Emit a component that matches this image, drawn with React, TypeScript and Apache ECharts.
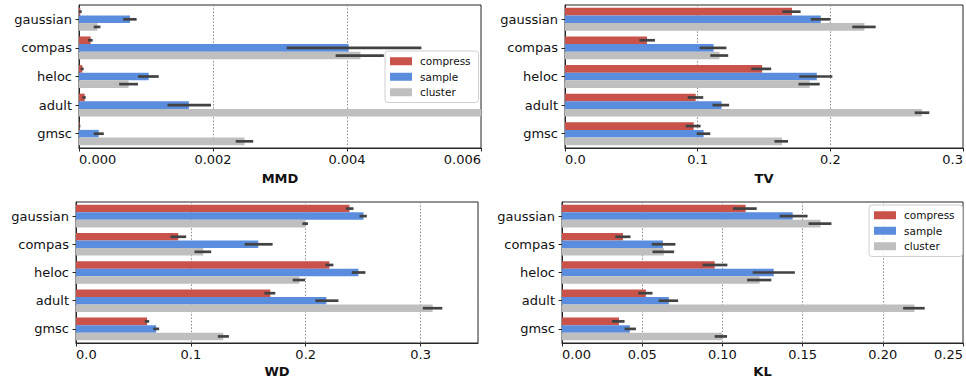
import React, { useEffect, useRef } from 'react';
import * as echarts from 'echarts';

const categories = ['gaussian', 'compas', 'heloc', 'adult', 'gmsc'];
const methods = ['compress', 'sample', 'cluster'];
const colors = ['#c9524a', '#5a8dde', '#bfbfbf'];

// MMD
const mmdCompress = [0.00002, 0.000174, 0.00005, 0.000085, 0.00001];
const mmdCompressCI = [[0.0, 0.00004], [0.000134, 0.000204], [0.000025, 0.00007], [0.00005, 0.0001], [0.0, 0.00002]];
const mmdSample = [0.00076, 0.004025, 0.00104, 0.00164, 0.000294];
const mmdSampleCI = [[0.00066, 0.00086], [0.0031, 0.00511], [0.00088, 0.00119], [0.00132, 0.00197], [0.00022, 0.00037]];
const mmdCluster = [0.000274, 0.0042, 0.00074, 0.0085, 0.00247];
const mmdClusterCI = [[0.00022, 0.00032], [0.00383, 0.00455], [0.0006, 0.00088], [0.0082, 0.0088], [0.00234, 0.0026]];

// TV
const tvCompress = [0.1711, 0.0618, 0.1486, 0.0985, 0.097];
const tvCompressCI = [[0.1638, 0.1776], [0.0561, 0.0678], [0.1404, 0.1554], [0.0925, 0.1042], [0.091, 0.1022]];
const tvSample = [0.1928, 0.112, 0.1898, 0.118, 0.1045];
const tvSampleCI = [[0.1853, 0.2], [0.1015, 0.1217], [0.1766, 0.2015], [0.1112, 0.1237], [0.0993, 0.1095]];
const tvCluster = [0.2257, 0.1165, 0.1845, 0.269, 0.1636];
const tvClusterCI = [[0.2165, 0.2342], [0.1095, 0.123], [0.176, 0.192], [0.2636, 0.2746], [0.1579, 0.1681]];

// WD
const wdCompress = [0.2381, 0.089, 0.2206, 0.1692, 0.0619];
const wdCompressCI = [[0.2349, 0.2416], [0.0823, 0.0959], [0.2172, 0.2241], [0.164, 0.1735], [0.0599, 0.0637]];
const wdSample = [0.2503, 0.1587, 0.2459, 0.218, 0.0698];
const wdSampleCI = [[0.2468, 0.2532], [0.1468, 0.1712], [0.2401, 0.252], [0.2084, 0.2285], [0.0672, 0.0724]];
const wdCluster = [0.1997, 0.1108, 0.1945, 0.3105, 0.1282];
const wdClusterCI = [[0.1971, 0.202], [0.1032, 0.1177], [0.1887, 0.1994], [0.302, 0.3189], [0.1235, 0.1331]];

// KL
const klCompress = [0.1145, 0.038, 0.0952, 0.0523, 0.0355];
const klCompressCI = [[0.1066, 0.1214], [0.0332, 0.0427], [0.0876, 0.1031], [0.0475, 0.0564], [0.0311, 0.039]];
const klSample = [0.1438, 0.0629, 0.132, 0.0666, 0.0423];
const klSampleCI = [[0.1357, 0.1531], [0.056, 0.0707], [0.1189, 0.1452], [0.0602, 0.0724], [0.039, 0.0461]];
const klCluster = [0.1612, 0.0635, 0.1232, 0.2197, 0.0998];
const klClusterCI = [[0.1537, 0.168], [0.0564, 0.0699], [0.1154, 0.1305], [0.2127, 0.2261], [0.0952, 0.1029]];

const panels = [
  { name: 'MMD', values: [mmdCompress, mmdSample, mmdCluster], cis: [mmdCompressCI, mmdSampleCI, mmdClusterCI], min: 0, max: 0.006, interval: 0.002, digits: 3, showMax: true, nameGap: 24 },
  { name: 'TV', values: [tvCompress, tvSample, tvCluster], cis: [tvCompressCI, tvSampleCI, tvClusterCI], min: 0, max: 0.3, interval: 0.1, digits: 1, showMax: true, nameGap: 24 },
  { name: 'WD', values: [wdCompress, wdSample, wdCluster], cis: [wdCompressCI, wdSampleCI, wdClusterCI], min: 0, max: 0.35, interval: 0.1, digits: 1, showMax: false, nameGap: 22 },
  { name: 'KL', values: [klCompress, klSample, klCluster], cis: [klCompressCI, klSampleCI, klClusterCI], min: 0, max: 0.25, interval: 0.05, digits: 2, showMax: true, nameGap: 22 },
];

const gridPos = [
  { left: 79, top: 5, width: 402, height: 143 },
  { left: 565, top: 5, width: 401, height: 143 },
  { left: 76, top: 202, width: 402, height: 141 },
  { left: 562, top: 202, width: 401, height: 141 },
];

const FONT = 'DejaVu Sans';

export default function App() {
  const ref = useRef<HTMLDivElement>(null);
  useEffect(() => {
    if (!ref.current) return;
    const chart = echarts.init(ref.current, null, { renderer: 'svg' });

    const grid = gridPos.map((g) => ({ ...g, show: true, borderColor: '#262626', borderWidth: 1, backgroundColor: 'transparent' }));

    const xAxis = panels.map((p, i) => ({
      type: 'value',
      gridIndex: i,
      min: p.min,
      max: p.max,
      interval: p.interval,
      name: p.name,
      nameLocation: 'middle',
      nameGap: p.nameGap,
      nameTextStyle: { fontFamily: FONT, fontWeight: 'bold', fontSize: 13, color: '#111' },
      axisLine: { show: true, lineStyle: { color: '#262626', width: 1 } },
      axisTick: { show: true, length: 3.5, lineStyle: { color: '#262626', width: 1 } },
      axisLabel: {
        fontFamily: FONT,
        fontSize: 13,
        color: '#111',
        margin: 5,
        showMaxLabel: p.showMax,
        alignMinLabel: 'left',
        alignMaxLabel: 'right',
        formatter: (v: number) => v.toFixed(p.digits),
      },
      splitLine: { show: true, lineStyle: { color: '#8a8a8a', width: 1, type: [1.5, 1.8] } },
    }));

    const yAxis = panels.map((p, i) => ({
      type: 'category',
      gridIndex: i,
      data: categories,
      inverse: true,
      axisLine: { show: true, lineStyle: { color: '#262626', width: 1 } },
      axisTick: { show: true, alignWithLabel: true, length: 3.5, lineStyle: { color: '#262626', width: 1 } },
      axisLabel: { fontFamily: FONT, fontSize: 13, color: '#111', margin: 7 },
      splitLine: { show: false },
    }));

    const series: any[] = [];
    panels.forEach((p, i) => {
      methods.forEach((m, k) => {
        series.push({
          type: 'bar',
          name: m,
          xAxisIndex: i,
          yAxisIndex: i,
          data: p.values[k],
          barCategoryGap: '20%',
          barGap: '0%',
          itemStyle: { color: colors[k] },
          clip: true,
          z: 2,
        });
      });
      const errData: number[][] = [];
      methods.forEach((m, k) => {
        p.cis[k].forEach((ci, c) => errData.push([ci[0], ci[1], c, k]));
      });
      series.push({
        type: 'custom',
        name: 'err' + i,
        xAxisIndex: i,
        yAxisIndex: i,
        clip: true,
        z: 3,
        encode: { x: [0, 1], y: 2 },
        data: errData,
        renderItem: (params: any, api: any) => {
          const lo = api.value(0);
          const hi = api.value(1);
          const c = api.value(2);
          const k = api.value(3);
          const band = api.size([0, 1])[1];
          const bw = (band * 0.8) / 3;
          const p1 = api.coord([lo, c]);
          const p2 = api.coord([hi, c]);
          const off = (k - 1) * bw;
          return {
            type: 'line',
            shape: { x1: p1[0], y1: p1[1] + off, x2: p2[0], y2: p2[1] + off },
            style: { stroke: '#424242', lineWidth: 2.7 },
          };
        },
      });
    });

    const legendCommon = {
      data: methods,
      orient: 'vertical',
      icon: 'rect',
      itemWidth: 22,
      itemHeight: 8,
      itemGap: 3,
      selectedMode: false,
      padding: [4, 8, 4, 5],
      borderColor: '#d0d0d0',
      borderWidth: 1,
      borderRadius: 3,
      backgroundColor: 'rgba(255,255,255,0.8)',
      textStyle: { fontFamily: FONT, fontSize: 10.5, color: '#111', lineHeight: 12.5, padding: [0, 0, 0, 3] },
    };

    chart.setOption({
      animation: false,
      backgroundColor: '#ffffff',
      grid,
      xAxis,
      yAxis,
      series,
      legend: [
        { ...legendCommon, left: 385, top: 51 },
        { ...legendCommon, left: 869, top: 205 },
      ],
    });

    return () => chart.dispose();
  }, []);

  return (
    <div
      ref={ref}
      style={{ position: 'absolute', left: 0, top: 0, width: 966, height: 381 }}
    />
  );
}
